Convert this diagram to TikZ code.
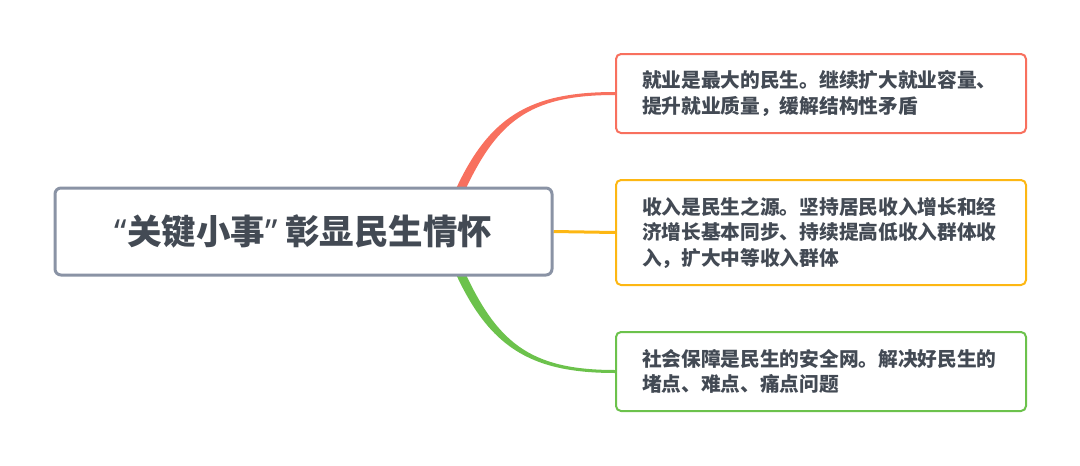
\documentclass[tikz,border=0pt]{standalone}
\usepackage{fontspec}
\usetikzlibrary{calc,backgrounds}
\newfontfamily\cjk{Noto Sans CJK SC}
\newfontfamily\latinq{Noto Sans}
\definecolor{redc}{HTML}{F8705E}
\definecolor{orangec}{HTML}{FDB713}
\definecolor{greenc}{HTML}{6CC24C}
\definecolor{grayc}{HTML}{8A93A5}
\definecolor{txtc}{HTML}{434A54}
\tikzset{
  mainbox/.style={draw=grayc, line width=3pt, rounded corners=6pt, fill=white,
    minimum width=497pt, minimum height=87pt, inner sep=0pt, text=txtc,
    font=\cjk\bfseries\fontsize{34.5}{40}\selectfont},
  subbox/.style={draw=#1, line width=2pt, rounded corners=5pt, fill=white,
    minimum width=410pt, text width=358pt, inner xsep=26pt, align=left, text=txtc,
    font=\cjk\bfseries\fontsize{19.7}{25.5}\selectfont},
}
\begin{document}
\begin{tikzpicture}[x=1pt,y=-1pt]
\useasboundingbox (0,0) rectangle (1080,466);
\node[mainbox] (c) at (303.5,231.5) {{\latinq\bfseries “}关键小事{\latinq\bfseries ”} 彰显民生情怀};
\node[subbox=redc, minimum height=79pt] (r) at (821,93.5) {就业是最大的民生。继续扩大就业容量、\\提升就业质量，缓解结构性矛盾};
\node[subbox=orangec, minimum height=105pt] (o) at (821,232.5) {收入是民生之源。坚持居民收入增长和经\\济增长基本同步、持续提高低收入群体收\\入，扩大中等收入群体};
\node[subbox=greenc, minimum height=79pt] (g) at (821,371.5) {社会保障是民生的安全网。解决好民生的\\堵点、难点、痛点问题};
\begin{scope}[on background layer]
\coordinate (rs) at ($(c.north east)+(-97,12)$);
\coordinate (gs) at ($(c.south east)+(-97,-12)$);
\fill[redc] ($(rs)+(-4,-2)$) .. controls ($(rs)+(31,-82)$) and ($(r.west)+(-86,-1.5)$) .. ($(r.west)+(0,-1.5)$)
  -- ($(r.west)+(0,1.5)$) .. controls ($(r.west)+(-86,1.5)$) and ($(rs)+(39,-78)$) .. ($(rs)+(4,2)$) -- cycle;
\fill[greenc] ($(gs)+(4,-2)$) .. controls ($(gs)+(39,78)$) and ($(g.west)+(-86,-1.5)$) .. ($(g.west)+(0,-1.5)$)
  -- ($(g.west)+(0,1.5)$) .. controls ($(g.west)+(-86,1.5)$) and ($(gs)+(31,82)$) .. ($(gs)+(-4,2)$) -- cycle;
\draw[orangec, line width=3pt] (c.east) -- (o.west);
\end{scope}
\end{tikzpicture}
\end{document}
